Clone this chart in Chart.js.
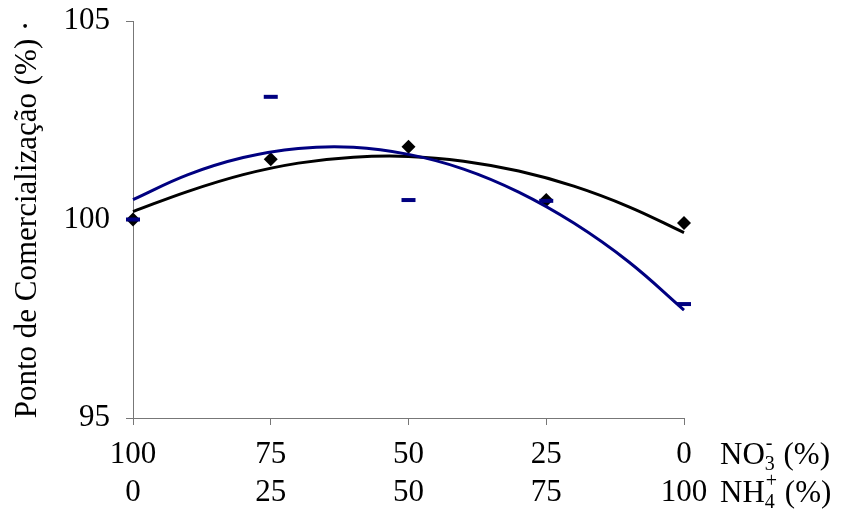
<!DOCTYPE html>
<html>
<head>
<meta charset="utf-8">
<script src="https://cdn.jsdelivr.net/npm/chart.js@4/dist/chart.umd.min.js"></script>
<style>
  html, body { margin: 0; padding: 0; background: #fff; }
  #wrap { width: 847px; height: 512px; }
</style>
</head>
<body>
<div id="wrap"><canvas id="chart"></canvas></div>
<script>
// NH4+ share (%) for each treatment, NO3- is the complement
const nh4Levels = [0, 25, 50, 75, 100];
const no3Labels = ['100', '75', '50', '25', '0'];
const nh4Labels = ['0', '25', '50', '75', '100'];

// observed values (%)
const blackPoints = [100.0, 101.52, 101.83, 100.49, 99.91];
const bluePoints = [100.0, 103.09, 100.49, 100.47, 97.87];

// trend lines
const trendX = [0, 10, 20, 30, 40, 50, 60, 70, 80, 90, 100];
const blackTrend = [100.20, 100.71, 101.13, 101.42, 101.57, 101.59, 101.47, 101.22, 100.84, 100.32, 99.67];
const blueTrend = [100.50, 101.13, 101.56, 101.79, 101.82, 101.64, 101.27, 100.69, 99.91, 98.93, 97.72];

const yTicks = [95, 100, 105];

const FONT = 'Liberation Serif, Times New Roman, serif';
const NAVY = '#000080';
const SIZE = 31;

const pts = (xs, ys) => xs.map((x, i) => ({ x: x, y: ys[i] }));

// NO3- / NH4+ captions next to the x tick rows
const axisCaptions = {
  id: 'axisCaptions',
  afterDraw(chart) {
    const ctx = chart.ctx;
    const area = chart.chartArea;
    const x0 = area.right + 36;
    const rows = [
      { base: 'NO', sub: '3', sup: '-', y: area.bottom + 38 },
      { base: 'NH', sub: '4', sup: '+', y: area.bottom + 76 }
    ];
    ctx.save();
    ctx.fillStyle = '#000';
    ctx.textBaseline = 'middle';
    ctx.textAlign = 'left';
    rows.forEach(r => {
      let x = x0;
      ctx.font = SIZE + 'px ' + FONT;
      ctx.fillText(r.base, x, r.y);
      x += ctx.measureText(r.base).width;
      ctx.font = '20px ' + FONT;
      ctx.fillText(r.sub, x, r.y + 9);
      ctx.fillText(r.sup, x + 1, r.y - 12);
      x += Math.max(ctx.measureText(r.sub).width, ctx.measureText(r.sup).width) + 1;
      ctx.font = SIZE + 'px ' + FONT;
      ctx.fillText(' (%)', x, r.y);
    });
    ctx.restore();
  }
};

new Chart(document.getElementById('chart'), {
  type: 'line',
  data: {
    datasets: [
      {
        label: 'blue trend',
        data: pts(trendX, blueTrend),
        borderColor: NAVY,
        borderWidth: 3,
        pointRadius: 0,
        tension: 0.4,
        fill: false,
        clip: false,
        order: 1
      },
      {
        label: 'black trend',
        data: pts(trendX, blackTrend),
        borderColor: '#000',
        borderWidth: 3,
        pointRadius: 0,
        tension: 0.4,
        fill: false,
        clip: false,
        order: 2
      },
      {
        label: 'blue points',
        data: pts(nh4Levels, bluePoints),
        showLine: false,
        pointStyle: 'line',
        pointRadius: 7,
        pointBorderWidth: 4,
        pointBorderColor: NAVY,
        pointBackgroundColor: NAVY,
        clip: false,
        order: 3
      },
      {
        label: 'black points',
        data: pts(nh4Levels, blackPoints),
        showLine: false,
        pointStyle: 'rectRot',
        pointRadius: 7,
        pointBorderWidth: 0,
        pointBackgroundColor: '#000',
        pointBorderColor: '#000',
        clip: false,
        order: 4
      }
    ]
  },
  options: {
    responsive: true,
    maintainAspectRatio: false,
    animation: false,
    layout: { padding: { top: 21, right: 163, bottom: 0, left: 0 } },
    plugins: {
      legend: { display: false },
      tooltip: { enabled: false }
    },
    scales: {
      x: {
        type: 'linear',
        min: 0,
        max: 100,
        afterBuildTicks: s => { s.ticks = nh4Levels.map(v => ({ value: v })); },
        afterFit: s => { s.height = 94; s.paddingLeft = 0; s.paddingRight = 0; },
        ticks: {
          font: { family: FONT, size: SIZE, lineHeight: 1.22 },
          color: '#000',
          padding: 11,
          maxRotation: 0,
          autoSkip: false,
          callback: (v) => {
            const i = nh4Levels.indexOf(v);
            return [no3Labels[i], nh4Labels[i]];
          }
        },
        grid: { drawOnChartArea: false, tickLength: 7, color: '#777' },
        border: { color: '#777', width: 1 }
      },
      y: {
        min: 95,
        max: 105,
        afterBuildTicks: s => { s.ticks = yTicks.map(v => ({ value: v })); },
        afterFit: s => { s.width = 133; s.paddingTop = 0; s.paddingBottom = 0; },
        ticks: {
          font: { family: FONT, size: SIZE },
          color: '#000',
          padding: 16
        },
        grid: { drawOnChartArea: false, tickLength: 7, color: '#777' },
        border: { color: '#777', width: 1 },
        title: {
          display: true,
          text: 'Ponto de Comercialização (%) ·',
          font: { family: FONT, size: SIZE },
          color: '#000',
          padding: { top: 9, bottom: 0 }
        }
      }
    }
  },
  plugins: [axisCaptions]
});
</script>
</body>
</html>
